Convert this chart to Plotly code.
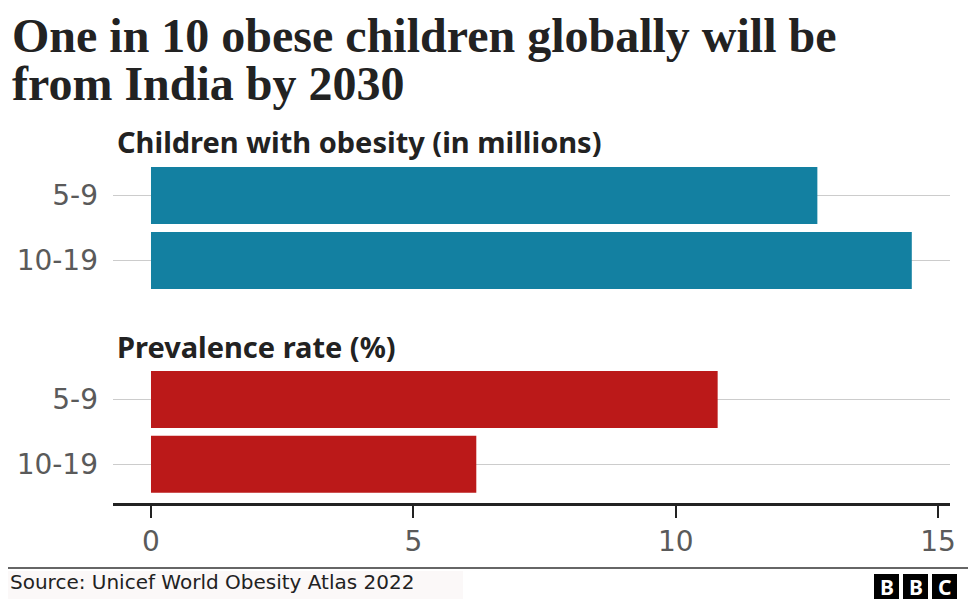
import plotly.graph_objects as go

# ---- data ----
age_groups = ["5-9", "10-19"]
obese_millions = [12.7, 14.5]
prevalence_pct = [10.8, 6.2]
x_ticks = [0, 5, 10, 15]
x_tick_labels = ["0", "5", "10", "15"]
title_lines = ["One in 10 obese children globally will be", "from India by 2030"]
panel_titles = ["Children with obesity (in millions)", "Prevalence rate (%)"]
source_text = "Source: Unicef World Obesity Atlas 2022"

# ---- geometry helpers (reference-pixel -> paper) ----
# the page body has an 8px margin, so the figure is 8px smaller and everything offset
OFF = 8
W, H = 976 - OFF, 600 - OFF
L, R = 113, 950  # plot area in reference pixels


def px(x):
    return (x - L) / (R - L)


def py(y):
    return 1 - (y - OFF) / H


x_range = [-0.724, 15.228]
blue = "#1380A1"
red = "#BB1919"
tick_font = dict(family="DejaVu Sans, sans-serif", size=28, color="#5a5a5a")

fig = go.Figure()
fig.add_trace(go.Bar(y=age_groups, x=obese_millions, orientation="h",
                     marker=dict(color=blue, line=dict(width=0)),
                     xaxis="x", yaxis="y", hoverinfo="skip", showlegend=False))
fig.add_trace(go.Bar(y=age_groups, x=prevalence_pct, orientation="h",
                     marker=dict(color=red, line=dict(width=0)),
                     xaxis="x2", yaxis="y2", hoverinfo="skip", showlegend=False))

common_y = dict(type="category", categoryorder="array", categoryarray=age_groups,
                showgrid=True, gridcolor="#cccccc", gridwidth=1, ticks="",
                tickfont=tick_font, ticklabelstandoff=14, zeroline=False,
                showline=False, automargin=False, fixedrange=True)

fig.update_layout(
    width=W, height=H,
    margin=dict(l=L - OFF, r=W - (R - OFF), t=0, b=0),
    paper_bgcolor="white", plot_bgcolor="white",
    bargap=0.12,
    showlegend=False,
    xaxis=dict(domain=[0, 1], anchor="y", range=x_range, visible=False, fixedrange=True),
    yaxis=dict(domain=[py(293), py(163)], anchor="x", range=[1.5, -0.5], **common_y),
    xaxis2=dict(domain=[0, 1], anchor="y2", range=x_range, tickvals=x_ticks,
                ticktext=x_tick_labels, ticks="outside", ticklen=12, tickwidth=2,
                tickcolor="#222222", showline=True, linecolor="#222222", linewidth=2.5,
                showgrid=False, zeroline=False, tickfont=tick_font,
                ticklabelstandoff=0, automargin=False, fixedrange=True),
    yaxis2=dict(domain=[py(503), py(367)], anchor="x2", range=[1.6, -0.5], **common_y),
)

annotations = []
title_font = dict(family="Liberation Serif, serif", size=48, color="#222222")
for i, line in enumerate(title_lines):
    annotations.append(dict(text="<b>" + line + "</b>", x=px(10), y=py(35 + 48 * i),
                            xref="paper", yref="paper", xanchor="left", yanchor="middle",
                            showarrow=False, font=title_font))
for t, yy in zip(panel_titles, [141, 346]):
    annotations.append(dict(text="<b>" + t + "</b>", x=px(115), y=py(yy),
                            xref="paper", yref="paper", xanchor="left", yanchor="middle",
                            showarrow=False,
                            font=dict(family="Noto Sans, sans-serif", size=29, color="#222222")))
annotations.append(dict(text=source_text, x=px(8), y=py(582), xref="paper", yref="paper",
                        xanchor="left", yanchor="middle", showarrow=False,
                        font=dict(family="DejaVu Sans, sans-serif", size=20, color="#222222")))
# BBC logo letters
logo_boxes = [(874, 899), (903, 928), (932, 957)]
for (x0, x1), letter in zip(logo_boxes, ["B", "B", "C"]):
    annotations.append(dict(text="<b>" + letter + "</b>", x=px((x0 + x1) / 2), y=py(586.5),
                            xref="paper", yref="paper", xanchor="center", yanchor="middle",
                            showarrow=False,
                            font=dict(family="Noto Sans, sans-serif", size=21, color="white")))

shapes = [
    # source background
    dict(type="rect", xref="paper", yref="paper", x0=px(8), x1=px(463), y0=py(599), y1=py(571),
         fillcolor="#fbf8f8", line=dict(width=0), layer="below"),
    # separator line
    dict(type="line", xref="paper", yref="paper", x0=px(OFF), x1=px(976), y0=py(568), y1=py(568),
         line=dict(color="#333333", width=1.5)),
    # right border
    dict(type="line", xref="paper", yref="paper", x0=px(974), x1=px(974), y0=py(OFF), y1=py(568),
         line=dict(color="#333333", width=1.5)),
]
for x0, x1 in logo_boxes:
    shapes.append(dict(type="rect", xref="paper", yref="paper", x0=px(x0), x1=px(x1),
                       y0=py(599), y1=py(574), fillcolor="black", line=dict(width=0)))

fig.update_layout(annotations=annotations, shapes=shapes)

fig.write_html("out.html", config={"displayModeBar": False})
